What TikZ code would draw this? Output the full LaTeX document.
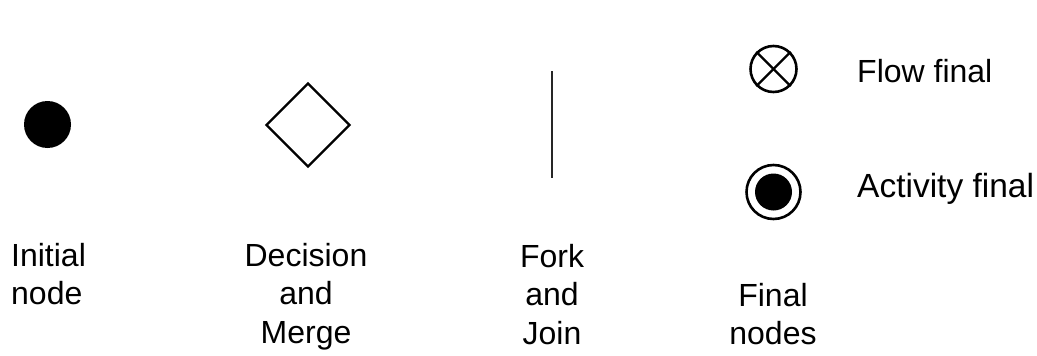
\documentclass[tikz,border=0pt]{standalone}
\usepackage{fontspec}
\setmainfont{Liberation Sans}
\usetikzlibrary{shapes.geometric}
\tikzset{
  lbl/.style={inner sep=0pt, font=\fontsize{32}{38.5}\selectfont, align=center},
  lbll/.style={inner sep=0pt, font=\fontsize{32}{38.5}\selectfont, align=left},
  sym/.style={line width=2.6pt, draw=black},
}
\begin{document}
\begin{tikzpicture}[x=1pt,y=-1pt]
\useasboundingbox (0,0) rectangle (1037,356);
% initial node
\node[circle, fill=black, minimum size=47pt, inner sep=0pt] (init) at (47.5,124.5) {};
% decision
\node[diamond, sym, line width=2.2pt, minimum width=84pt, minimum height=84pt, inner sep=0pt] (dec) at (308,125) {};
% fork
\coordinate (ftop) at (552,71);
\coordinate (fbot) at (552,178);
\draw[line width=2.8pt, draw=black!85] (ftop) -- (fbot);
% flow final
\node[circle, sym, minimum size=46pt, inner sep=0pt] (ff) at (773.5,69) {};
\draw[line width=2.3pt] (ff.north west) -- (ff.south east);
\draw[line width=2.3pt] (ff.north east) -- (ff.south west);
% activity final
\node[circle, sym, minimum size=54pt, inner sep=0pt] (af) at (773.5,192) {};
\node[circle, fill=black, minimum size=37pt, inner sep=0pt] (afi) at (af.center) {};
% labels
\node[lbll, anchor=north west] (linit) at (11,243) {Initial\\node};
\node[lbl, anchor=north] (ldec) at (306,243) {Decision\\and\\Merge};
\node[lbl, anchor=north] (lfork) at (552,244) {Fork\\and\\Join};
\node[lbl, anchor=north] (lfin) at (773,283) {Final\\nodes};
\node[lbll, anchor=base west] (lff) at (857,82) {Flow final};
\node[lbll, anchor=base west, font=\fontsize{33.5}{38.5}\selectfont] (laf) at (857,197) {Activity final};
\end{tikzpicture}
\end{document}
